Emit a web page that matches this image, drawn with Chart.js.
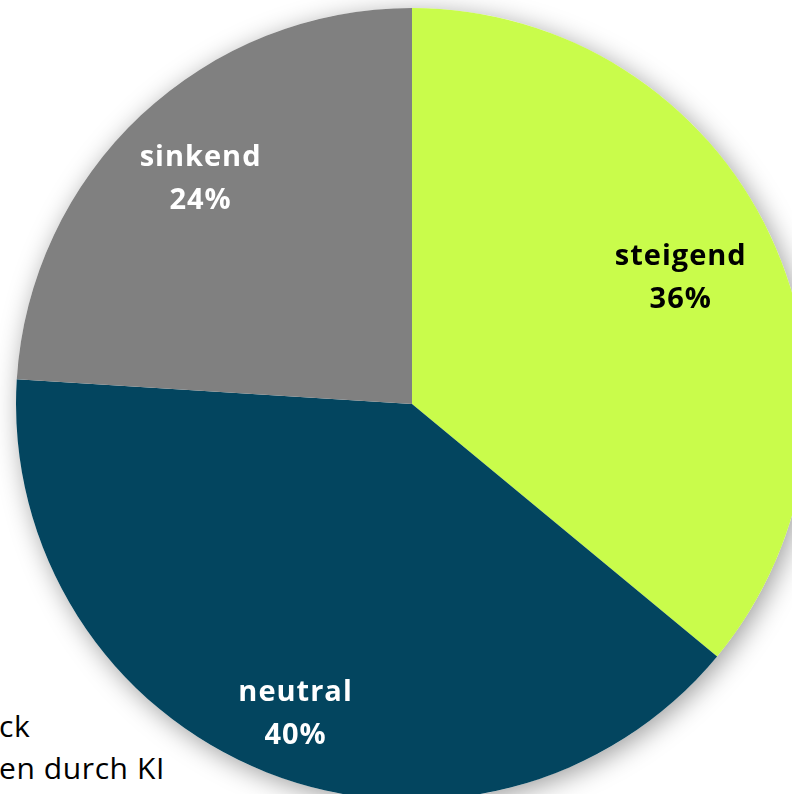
<!DOCTYPE html>
<html>
<head>
<meta charset="utf-8">
<script src="https://cdn.jsdelivr.net/npm/chart.js@4"></script>
<style>
  html, body { margin: 0; padding: 0; background: #fff; overflow: hidden; width: 792px; height: 794px; }
  #wrap { position: absolute; left: 0; top: -8px; width: 824px; height: 824px; }
  .note { position: absolute; left: -1px; font-family: "Open Sans", sans-serif; font-size: 30px; letter-spacing: 0.6px; color: #000; line-height: 30px; white-space: nowrap; }
</style>
</head>
<body>
<div class="note" style="top:711px">ck</div>
<div class="note" style="top:753px">en durch KI</div>
<div id="wrap"><canvas id="pie"></canvas></div>
<script>
var labels = ['steigend', 'neutral', 'sinkend'];
var shares = [36, 40, 24];
var colors = ['#C9FC4B', '#03455F', '#808080'];
var textColors = ['#000000', '#ffffff', '#ffffff'];
var labelRadius = [0.75, 0.84, 0.78];

// soft shadow under the whole pie
var pieShadow = {
  id: 'pieShadow',
  beforeDatasetsDraw: function(chart) {
    var arc = chart.getDatasetMeta(0).data[0];
    var ctx = chart.ctx;
    ctx.save();
    ctx.shadowColor = 'rgba(0,0,0,0.38)';
    ctx.shadowBlur = 26;
    ctx.shadowOffsetX = 4;
    ctx.shadowOffsetY = 5;
    ctx.fillStyle = '#ffffff';
    ctx.beginPath();
    ctx.arc(arc.x, arc.y, arc.outerRadius, 0, Math.PI * 2);
    ctx.fill();
    ctx.restore();
  }
};

// two-line labels: name and percentage
var sliceLabels = {
  id: 'sliceLabels',
  afterDatasetsDraw: function(chart) {
    var ctx = chart.ctx;
    chart.getDatasetMeta(0).data.forEach(function(arc, i) {
      var mid = (arc.startAngle + arc.endAngle) / 2;
      var r = arc.outerRadius * labelRadius[i];
      var x = arc.x + Math.cos(mid) * r;
      var y = arc.y + Math.sin(mid) * r;
      if (i === 1) x += 6;
      ctx.save();
      ctx.fillStyle = textColors[i];
      ctx.font = 'bold 29px "Open Sans", Lato, sans-serif';
      ctx.letterSpacing = '1px';
      ctx.textAlign = 'center';
      ctx.textBaseline = 'middle';
      ctx.fillText(labels[i], x, y - 21);
      ctx.fillText(shares[i] + '%', x, y + 22);
      ctx.restore();
    });
  }
};

var ctx = document.getElementById('pie').getContext('2d');
var myChart = new Chart(ctx, {
    type: 'pie',
    data: {
        labels: labels,
        datasets: [{
            data: shares,
            backgroundColor: colors,
            borderWidth: 0
        }]
    },
    options: {
      responsive: true,
      maintainAspectRatio: false,
      animation: false,
      layout: { padding: 16 },
      plugins: {
        legend: { display: false },
        tooltip: { enabled: false }
      }
    },
    plugins: [pieShadow, sliceLabels]
});
</script>
</body>
</html>
